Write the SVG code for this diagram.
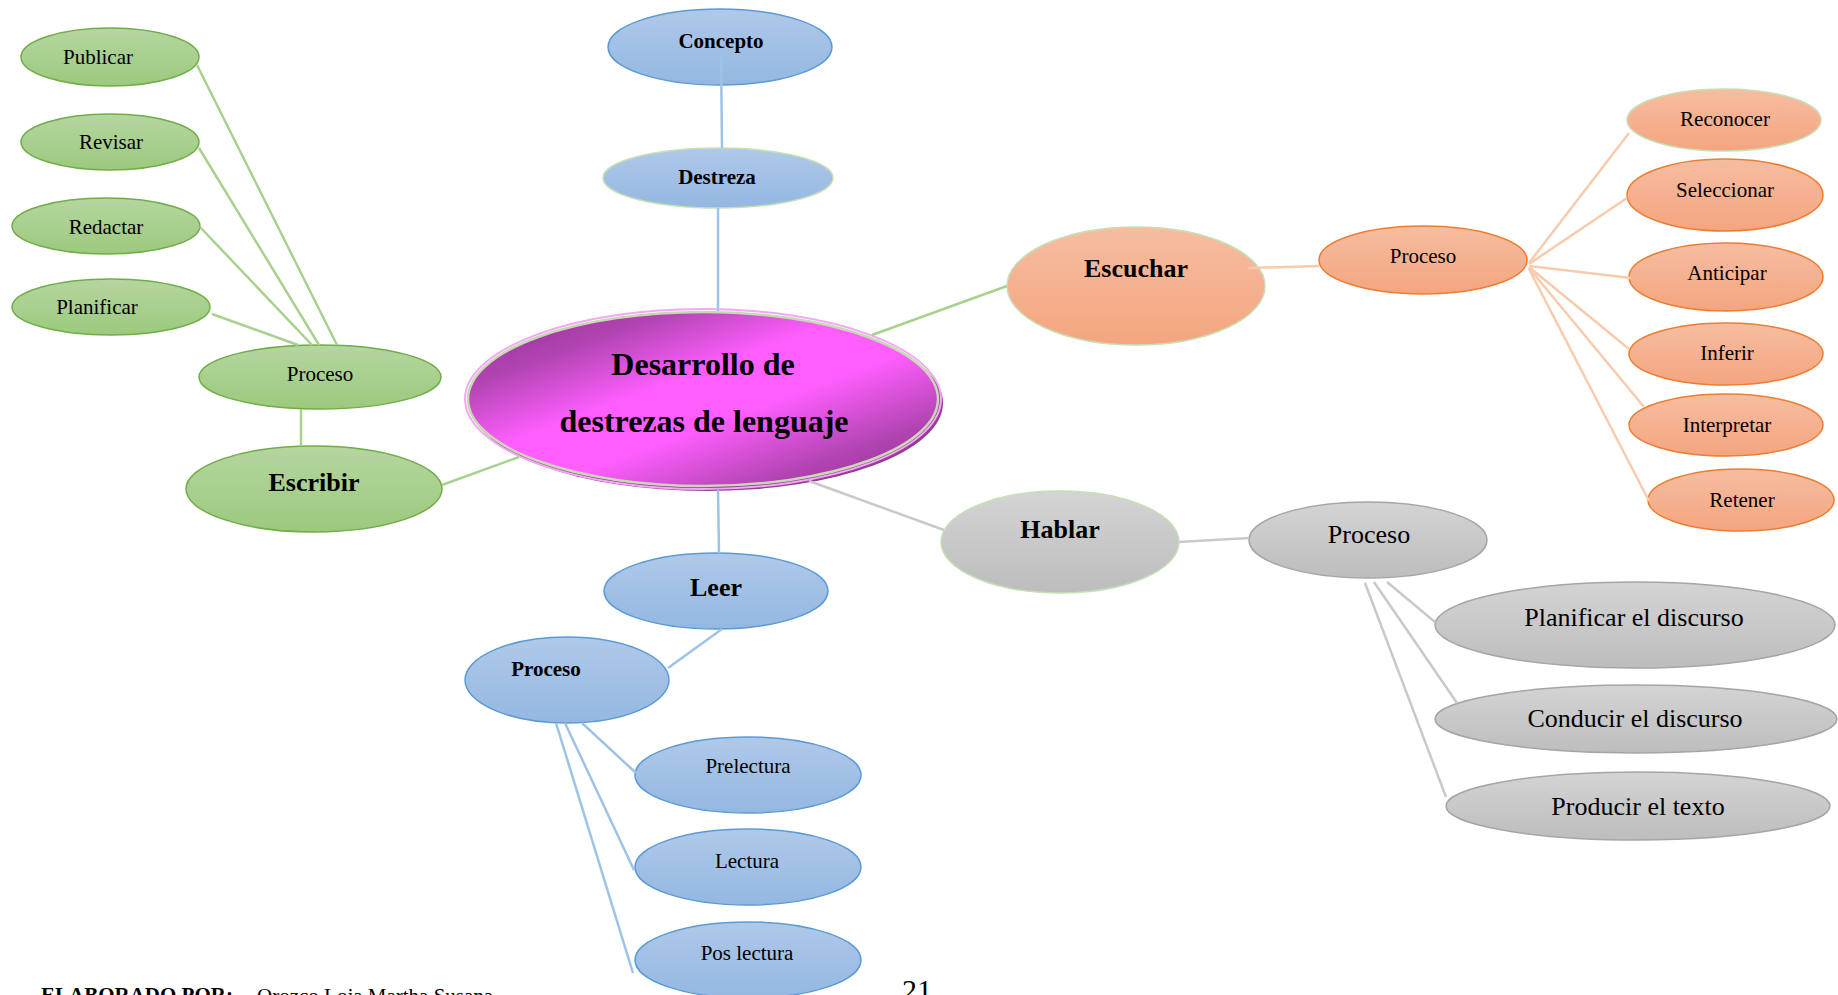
<svg xmlns="http://www.w3.org/2000/svg" width="1838" height="995" viewBox="0 0 1838 995">
<style>
text{font-family:"Liberation Serif","Times New Roman",serif;fill:#000;text-anchor:middle}
.b{font-weight:bold}
.s21{font-size:21px}
.s26{font-size:26px}
.g{fill:url(#gGreen);stroke:#70ad47;stroke-width:1.5}
.bl{fill:url(#gBlue);stroke:#5b9bd5;stroke-width:1.5}
.o{fill:url(#gOrange);stroke:#ed7d31;stroke-width:1.5}
.gr{fill:url(#gGray);stroke:#a5a5a5;stroke-width:1.5}
.pg{stroke:#c5e0b4}
.cg line{stroke:#a9d18e;stroke-width:2.5}
.cb line{stroke:#9dc3e6;stroke-width:2.5}
.co line{stroke:#f8cbad;stroke-width:2.5}
.cr line{stroke:#c9c9c9;stroke-width:2.5}
</style>
<defs>
<linearGradient id="gGreen" x1="0" y1="0" x2="0" y2="1"><stop offset="0" stop-color="#b5d6a0"/><stop offset="1" stop-color="#9cc97e"/></linearGradient>
<linearGradient id="gBlue" x1="0" y1="0" x2="0" y2="1"><stop offset="0" stop-color="#afc9e9"/><stop offset="1" stop-color="#94b7e1"/></linearGradient>
<linearGradient id="gOrange" x1="0" y1="0" x2="0" y2="1"><stop offset="0" stop-color="#f6bda1"/><stop offset="1" stop-color="#f4a57f"/></linearGradient>
<linearGradient id="gGray" x1="0" y1="0" x2="0" y2="1"><stop offset="0" stop-color="#d4d4d4"/><stop offset="1" stop-color="#bdbdbd"/></linearGradient>
<linearGradient id="gMag" x1="0" y1="0" x2="1" y2="1"><stop offset="0" stop-color="#8a2a8a"/><stop offset="0.22" stop-color="#b445b4"/><stop offset="0.42" stop-color="#ff5eff"/><stop offset="0.58" stop-color="#ff5eff"/><stop offset="0.8" stop-color="#b445b4"/><stop offset="1" stop-color="#8a2a8a"/></linearGradient>
</defs>

<g id="center">
<ellipse cx="707" cy="403" rx="236" ry="88" fill="#963c96"/>
<ellipse cx="703" cy="399" rx="238" ry="90" fill="none" stroke="#f6a6f6" stroke-width="2"/>
<ellipse cx="703" cy="399" rx="235" ry="87" fill="url(#gMag)" stroke="#c9d8b4" stroke-width="2.5"/>
<text class="b" x="703" y="375" font-size="32">Desarrollo de</text>
<text class="b" x="704" y="432" font-size="32">destrezas de lenguaje</text>
</g>

<g id="concepto"><ellipse class="bl" cx="720" cy="47" rx="112" ry="38"/><text class="b s21" x="721" y="48">Concepto</text></g>
<g id="destreza"><ellipse class="bl pg" cx="718" cy="178" rx="115" ry="30"/><text class="b s21" x="717" y="184">Destreza</text></g>

<g id="escribir"><ellipse class="g" cx="314" cy="489" rx="128" ry="43"/><text class="b s26" x="314" y="491">Escribir</text></g>
<g id="proceso-escribir"><ellipse class="g" cx="320" cy="377" rx="121" ry="32"/><text class="s21" x="320" y="381">Proceso</text></g>
<g id="publicar"><ellipse class="g" cx="110" cy="57" rx="89" ry="29"/><text class="s21" x="98" y="64">Publicar</text></g>
<g id="revisar"><ellipse class="g" cx="110" cy="142" rx="89" ry="28"/><text class="s21" x="111" y="149">Revisar</text></g>
<g id="redactar"><ellipse class="g" cx="106" cy="226" rx="94" ry="28"/><text class="s21" x="106" y="234">Redactar</text></g>
<g id="planificar"><ellipse class="g" cx="111" cy="307" rx="99" ry="28"/><text class="s21" x="97" y="314">Planificar</text></g>

<g id="leer"><ellipse class="bl" cx="716" cy="591" rx="112" ry="38"/><text class="b s26" x="716" y="596">Leer</text></g>
<g id="proceso-leer"><ellipse class="bl" cx="567" cy="680" rx="102" ry="43"/><text class="b s21" x="546" y="676">Proceso</text></g>
<g id="prelectura"><ellipse class="bl" cx="748" cy="775" rx="113" ry="38"/><text class="s21" x="748" y="773">Prelectura</text></g>
<g id="lectura"><ellipse class="bl" cx="748" cy="867" rx="113" ry="38"/><text class="s21" x="747" y="868">Lectura</text></g>
<g id="poslectura"><ellipse class="bl" cx="748" cy="960" rx="113" ry="38"/><text class="s21" x="747" y="960">Pos lectura</text></g>

<g id="escuchar"><ellipse class="o pg" cx="1136" cy="286" rx="129" ry="59"/><text class="b s26" x="1136" y="277">Escuchar</text></g>
<g id="proceso-escuchar"><ellipse class="o" cx="1423" cy="260" rx="104" ry="34"/><text class="s21" x="1423" y="263">Proceso</text></g>
<g id="reconocer"><ellipse class="o pg" cx="1724" cy="120" rx="97" ry="31"/><text class="s21" x="1725" y="126">Reconocer</text></g>
<g id="seleccionar"><ellipse class="o" cx="1725" cy="195" rx="98" ry="36"/><text class="s21" x="1725" y="197">Seleccionar</text></g>
<g id="anticipar"><ellipse class="o" cx="1726" cy="277" rx="97" ry="34"/><text class="s21" x="1727" y="280">Anticipar</text></g>
<g id="inferir"><ellipse class="o" cx="1726" cy="354" rx="97" ry="31"/><text class="s21" x="1727" y="360">Inferir</text></g>
<g id="interpretar"><ellipse class="o" cx="1726" cy="425" rx="97" ry="31"/><text class="s21" x="1727" y="432">Interpretar</text></g>
<g id="retener"><ellipse class="o" cx="1741" cy="500" rx="93" ry="31"/><text class="s21" x="1742" y="507">Retener</text></g>

<g id="hablar"><ellipse class="gr pg" cx="1060" cy="542" rx="119" ry="51"/><text class="b s26" x="1060" y="538">Hablar</text></g>
<g id="proceso-hablar"><ellipse class="gr" cx="1368" cy="540" rx="119" ry="38"/><text class="s26" x="1369" y="543">Proceso</text></g>
<g id="planificar-discurso"><ellipse class="gr" cx="1635" cy="625" rx="200" ry="43"/><text class="s26" x="1634" y="626">Planificar el discurso</text></g>
<g id="conducir-discurso"><ellipse class="gr" cx="1636" cy="719" rx="201" ry="34"/><text class="s26" x="1635" y="727">Conducir el discurso</text></g>
<g id="producir-texto"><ellipse class="gr" cx="1638" cy="806" rx="192" ry="34"/><text class="s26" x="1638" y="815">Producir el texto</text></g>

<g id="connectors">
<g class="cg">
<line x1="197" y1="65" x2="337" y2="345"/>
<line x1="199" y1="148" x2="319" y2="345"/>
<line x1="200" y1="227" x2="312" y2="345"/>
<line x1="212" y1="314" x2="298" y2="345"/>
<line x1="301" y1="409" x2="301" y2="446"/>
<line x1="442" y1="485" x2="519" y2="457"/>
<line x1="872" y1="335" x2="1007" y2="286"/>
</g>
<g class="cb">
<line x1="721" y1="55" x2="722" y2="148"/>
<line x1="718" y1="208" x2="718" y2="311"/>
<line x1="718" y1="490" x2="719" y2="553"/>
<line x1="722" y1="629" x2="668" y2="668"/>
<line x1="582" y1="723" x2="636" y2="773"/>
<line x1="565" y1="723" x2="634" y2="870"/>
<line x1="556" y1="723" x2="633" y2="973"/>
</g>
<g class="co">
<line x1="1248" y1="268" x2="1319" y2="266"/>
<line x1="1529" y1="263" x2="1629" y2="133"/>
<line x1="1529" y1="264" x2="1627" y2="198"/>
<line x1="1529" y1="266" x2="1631" y2="278"/>
<line x1="1529" y1="267" x2="1629" y2="349"/>
<line x1="1529" y1="268" x2="1644" y2="407"/>
<line x1="1529" y1="269" x2="1649" y2="501"/>
</g>
<g class="cr">
<line x1="809" y1="481" x2="944" y2="530"/>
<line x1="1179" y1="542" x2="1249" y2="538"/>
<line x1="1387" y1="582" x2="1435" y2="622"/>
<line x1="1374" y1="582" x2="1457" y2="703"/>
<line x1="1365" y1="583" x2="1446" y2="797"/>
</g>
</g>

<g id="footer">
<text class="b s21" x="41" y="1002" text-anchor="start" style="text-anchor:start">ELABORADO POR:</text>
<text class="s21" x="257" y="1003" style="text-anchor:start">Orozco Loja Martha Susana</text>
<text x="902" y="1000" font-size="30" style="text-anchor:start">21</text>
</g>
</svg>
